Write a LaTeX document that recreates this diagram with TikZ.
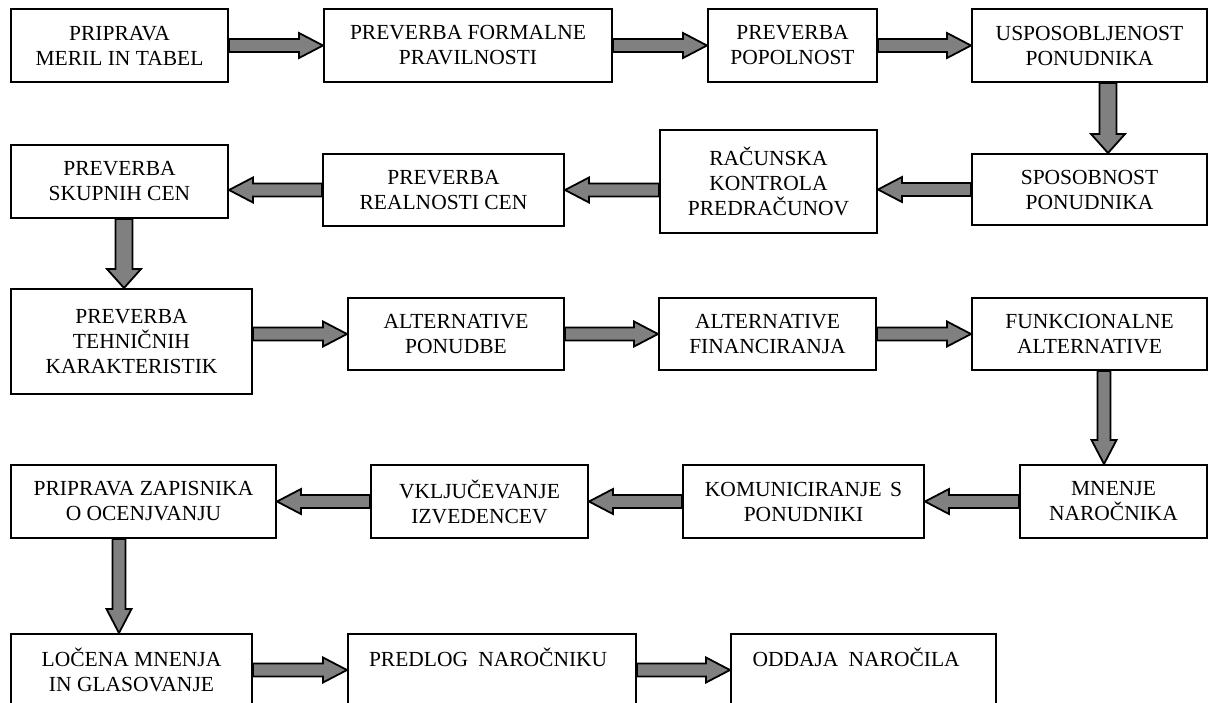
\documentclass[tikz,border=0pt]{standalone}
\usepackage{fontspec}
\setmainfont{Liberation Serif}
\usepackage{tikz}
\usetikzlibrary{calc}
\definecolor{arrowgray}{RGB}{128,128,128}
\newcommand{\boxfont}{\fontsize{21.5}{25}\selectfont}
\newcommand{\gap}{\ \kern3pt}

% #1 shaft half width, #2 head half width, #3 head length, #4 from, #5 to
\newcommand{\flowarrow}[5]{%
  \path[arrowbody] let \p1=(#4), \p2=(#5),
      \n1={veclen(\x2-\x1,\y2-\y1)},
      \n2={(\x2-\x1)/\n1}, \n3={(\y2-\y1)/\n1}
    in ({\x1-#1*\n3},{\y1+#1*\n2})
    -- ({\x2-#3*\n2-#1*\n3},{\y2-#3*\n3+#1*\n2})
    -- ({\x2-#3*\n2-#2*\n3},{\y2-#3*\n3+#2*\n2})
    -- (\p2)
    -- ({\x2-#3*\n2+#2*\n3},{\y2-#3*\n3-#2*\n2})
    -- ({\x2-#3*\n2+#1*\n3},{\y2-#3*\n3-#1*\n2})
    -- ({\x1+#1*\n3},{\y1-#1*\n2}) -- cycle;}

\tikzset{
  box/.style={draw, line width=2pt, inner sep=0pt, align=center, font=\boxfont, anchor=north west},
  openbox/.style={box, align=left, inner xsep=21pt},
  arrowbody/.style={draw=black, fill=arrowgray, line width=1.8pt, line join=miter},
}

\begin{document}
\begin{tikzpicture}[x=1pt,y=1pt,yscale=-1,xscale=1]
\useasboundingbox (0,0) rectangle (1209,702);

% Text Node
\node[box, minimum width=217pt, minimum height=73pt] (pripr) at (10,8) {PRIPRAVA\\MERIL IN TABEL};
% Text Node
\node[box, minimum width=288pt, minimum height=73pt] (formal) at (323,8) {PREVERBA FORMALNE\\PRAVILNOSTI};
% Text Node
\node[box, minimum width=169pt, minimum height=73pt] (popoln) at (707,8) {PREVERBA\\POPOLNOST};
% Text Node
\node[box, minimum width=235pt, minimum height=73pt] (usposob) at (971,8) {USPOSOBLJENOST\\PONUDNIKA};
% Text Node
\node[box, minimum width=235pt, minimum height=71pt] (sposob) at (971,153) {SPOSOBNOST\\PONUDNIKA};
% Text Node
\node[box, minimum width=217pt, minimum height=103pt] (racun) at (659,129) {RAČUNSKA\\KONTROLA\\PREDRAČUNOV};
% Text Node
\node[box, minimum width=241pt, minimum height=72pt] (realn) at (322,153) {PREVERBA\\REALNOSTI CEN};
% Text Node
\node[box, minimum width=217pt, minimum height=73pt] (skupn) at (10,144) {PREVERBA\\SKUPNIH CEN};
% Text Node
\node[box, minimum width=241pt, minimum height=105pt] (tehn) at (10,288) {PREVERBA\\TEHNIČNIH\\KARAKTERISTIK};
% Text Node
\node[box, minimum width=216pt, minimum height=72pt] (altpon) at (347,297) {ALTERNATIVE\\PONUDBE};
% Text Node
\node[box, minimum width=217pt, minimum height=72pt] (altfin) at (658,297) {ALTERNATIVE\\FINANCIRANJA};
% Text Node
\node[box, minimum width=235pt, minimum height=72pt] (funk) at (971,297) {FUNKCIONALNE\\ALTERNATIVE};
% Text Node
\node[box, minimum width=187pt, minimum height=73pt] (mnenje) at (1019,464) {MNENJE\\NAROČNIKA};
% Text Node
\node[box, minimum width=241pt, minimum height=73pt] (komun) at (682,464) {KOMUNICIRANJE\gap S\\PONUDNIKI};
% Text Node
\node[box, minimum width=217pt, minimum height=73pt] (vkljuc) at (370,464) {VKLJUČEVANJE\\IZVEDENCEV};
% Text Node
\node[box, minimum width=265pt, minimum height=73pt] (zapis) at (10,464) {PRIPRAVA ZAPISNIKA\\O OCENJVANJU};
% Text Node
\node[box, minimum width=241pt, minimum height=72pt] (locena) at (10,633) {LOČENA MNENJA\\IN GLASOVANJE};
% Text Node
\node[openbox, minimum width=288pt, minimum height=72pt, text width=246pt] (predlog) at (347,633) {PREDLOG\gap NAROČNIKU\\~};
% Text Node
\node[openbox, minimum width=265pt, minimum height=72pt, text width=222pt] (oddaja) at (730,633) {ODDAJA\gap NAROČILA\\~};

% vertical arrows sit off the box middles
\coordinate (d1) at ([xshift=18.5pt]usposob.south);
\coordinate (d2) at ([xshift=4.5pt]skupn.south);
\coordinate (d3) at ([xshift=14.5pt]funk.south);
\coordinate (d4) at ([xshift=-24.5pt]zapis.south);

%Block Arrows
\flowarrow{6.5}{12.5}{24}{pripr.east}{formal.west}
\flowarrow{6.5}{12.5}{24}{formal.east}{popoln.west}
\flowarrow{6.5}{12.5}{24}{popoln.east}{usposob.west}
\flowarrow{8.5}{17}{19}{d1}{d1 |- sposob.north}
\flowarrow{6.5}{12.5}{24}{sposob.west}{sposob.west -| racun.east}
\flowarrow{6.5}{12.5}{24}{realn.east -| racun.west}{realn.east}
\flowarrow{6.5}{12.5}{24}{realn.west}{realn.west -| skupn.east}
\flowarrow{8.5}{17}{19}{d2}{d2 |- tehn.north}
\flowarrow{6.5}{12.5}{24}{altpon.west -| tehn.east}{altpon.west}
\flowarrow{6.5}{12.5}{24}{altpon.east}{altfin.west}
\flowarrow{6.5}{12.5}{24}{altfin.east}{funk.west}
\flowarrow{6.5}{12.5}{24}{d3}{d3 |- mnenje.north}
\flowarrow{6.5}{12.5}{24}{mnenje.west}{komun.east}
\flowarrow{6.5}{12.5}{24}{komun.west}{vkljuc.east}
\flowarrow{6.5}{12.5}{24}{vkljuc.west}{zapis.east}
\flowarrow{6.5}{12.5}{24}{d4}{d4 |- locena.north}
\flowarrow{6.5}{12.5}{24}{locena.east}{predlog.west}
\flowarrow{6.5}{12.5}{24}{predlog.east}{oddaja.west}

\end{tikzpicture}
\end{document}
